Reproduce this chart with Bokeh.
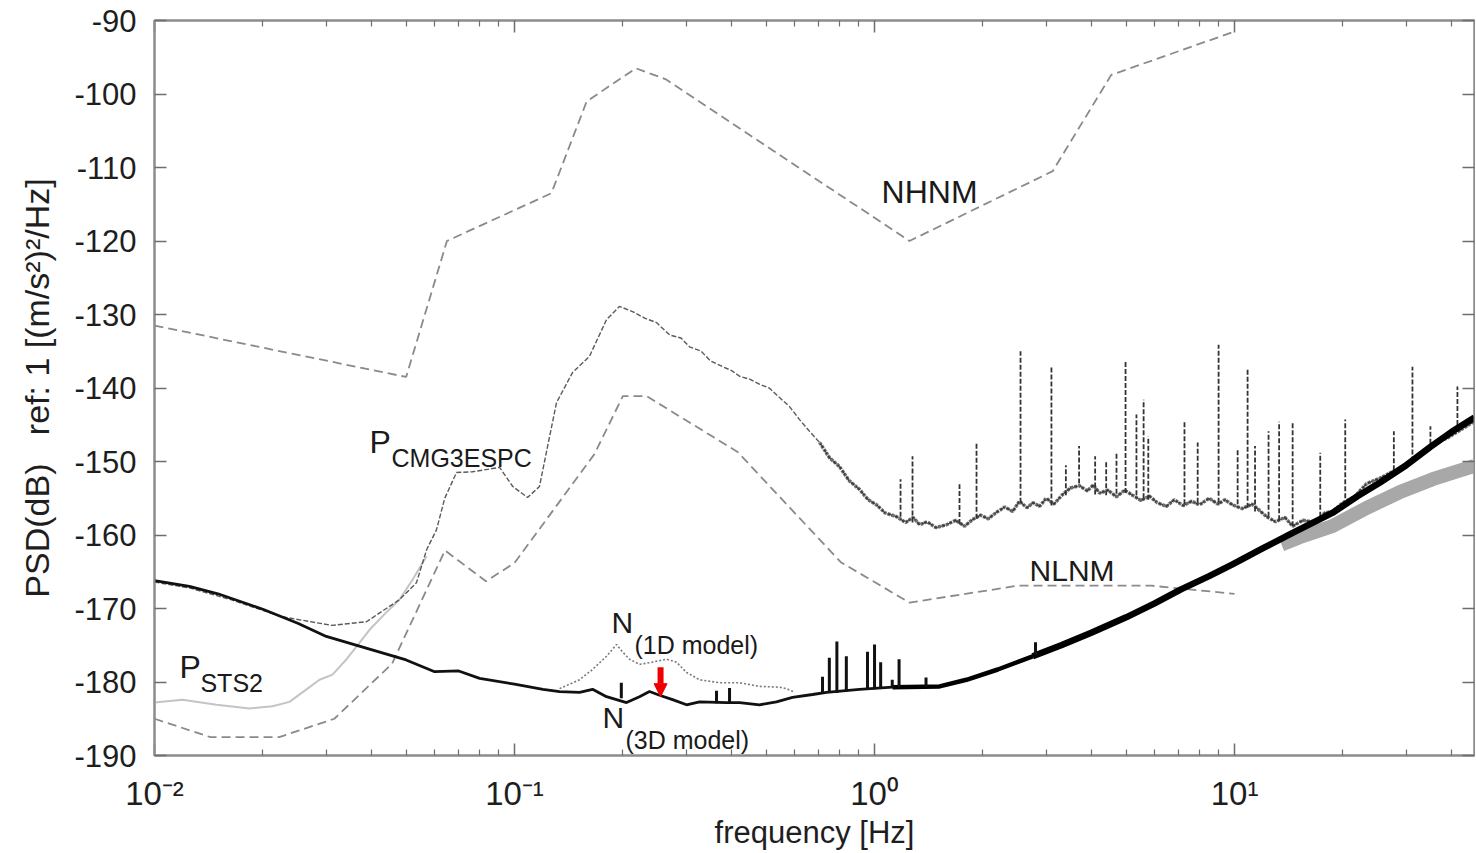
import numpy as np
from bokeh.plotting import figure
from bokeh.models import (Range1d, LogAxis, LinearAxis, FixedTicker, CustomJSTickFormatter,
                          Label, Arrow, NormalHead)
from bokeh.embed import file_html
from bokeh.resources import INLINE

# ---------------- data (frequency in Hz, PSD in dB) ----------------
nhnm_f = [0.01, 0.05, 0.0649, 0.1266, 0.1587, 0.2174, 0.2632, 1.25, 3.125, 4.545, 10.0]
nhnm_db = [-131.5, -138.5, -120.0, -113.5, -101.0, -96.5, -98.0, -120.0, -110.5, -97.4, -91.5]

nlnm_f = [0.01, 0.01429, 0.0222, 0.0316, 0.0457, 0.0641, 0.0833, 0.1, 0.1667, 0.2, 0.2326,
          0.4167, 0.806, 1.25, 2.5, 5.88, 10.0]
nlnm_db = [-185.0, -187.5, -187.5, -185.0, -177.5, -162.1, -166.3, -163.8, -149.0, -141.1, -141.1,
           -148.7, -163.7, -169.2, -166.9, -166.9, -168.0]

cmg_f = [0.01, 0.0125, 0.0163, 0.0225, 0.0311, 0.0388, 0.0479, 0.0534, 0.057, 0.0607, 0.064, 0.069,
         0.0764, 0.0909, 0.0989, 0.1087, 0.1173, 0.1235, 0.1308, 0.1449, 0.1615, 0.1801, 0.1957,
         0.2127, 0.23, 0.2479, 0.27, 0.29, 0.3062, 0.33, 0.35, 0.3784, 0.40, 0.4217, 0.45, 0.48,
         0.51, 0.5446, 0.58, 0.619, 0.66,
         0.7035, 0.75, 0.7995, 0.85, 0.9085, 0.96, 1.013, 1.07, 1.151, 1.22, 1.28, 1.334, 1.40,
         1.48, 1.585, 1.68, 1.78, 1.872, 1.97, 2.07, 2.183, 2.30, 2.42, 2.527, 2.65, 2.76, 2.873,
         3.0, 3.15, 3.328, 3.5, 3.71, 3.9, 4.05, 4.217, 4.45, 4.7, 4.95, 5.21, 5.5, 5.8, 6.1, 6.47,
         6.8, 7.2, 7.6, 7.99, 8.5, 9.0, 9.4, 9.87, 10.5, 11.2, 12.27, 13.0, 13.8, 14.5, 15.5, 16.9,
         17.8, 18.7, 20.0, 21.5, 23.3, 25.5, 28.7, 31.5, 35.5, 39.0, 44.1, 46.4]
cmg_db = [-166.4, -167.2, -168.8, -171.1, -172.3, -171.8, -168.8, -166.5, -162.0, -159.3, -155.0, -151.5,
          -151.4, -150.8, -153.4, -154.9, -153.4, -148.0, -142.0, -137.9, -135.7, -130.7, -128.9,
          -129.6, -130.5, -131.1, -132.8, -133.2, -134.4, -135.0, -136.3, -137.1, -137.6, -138.4, -138.8, -139.5,
          -140.0, -141.3, -142.5, -144.3, -145.9,
          -147.4, -149.5, -150.7, -152.6, -153.8, -155.2, -155.9, -157.0, -157.5, -158.3, -157.6, -158.6, -158.2,
          -159.0, -158.6, -158.0, -158.8, -157.9, -157.3, -157.8, -156.9, -156.2, -156.8, -155.4, -156.3, -155.6, -156.1,
          -155.0, -155.8, -154.5, -153.6, -153.3, -154.0, -153.2, -154.3, -153.9, -154.8, -153.9, -154.6, -155.3, -154.7, -155.6, -156.1,
          -155.2, -156.0, -155.4, -155.9, -155.0, -155.8, -155.2, -155.9, -156.4, -155.8, -157.5, -158.2, -157.6, -158.8, -158.0, -158.3,
          -157.0, -156.8, -155.6, -154.8, -153.0, -152.2, -150.9, -149.6, -147.6, -146.8, -145.2, -144.5]

# narrow peaks of the CMG3ESPC spectrum: frequency, floor, top
cmg_spike_f = [1.181, 1.275, 1.722, 1.92, 2.544, 3.10, 3.4, 3.7, 4.1, 4.4, 4.7, 4.98, 5.34, 5.59, 5.76,
               7.26, 7.9, 9.03, 10.2, 10.87, 11.4, 12.43, 13.3, 14.5, 17.3, 20.3, 27.7, 31.2, 35.0, 41.6]
cmg_spike_base = [-157.5, -158.3, -158.5, -157.8, -155.6, -156.0, -154.6, -153.0, -154.5, -154.6, -154.4,
                  -154.3, -154.6, -155.0, -155.2, -155.8, -155.6, -155.6, -155.8, -156.3, -156.8, -157.5,
                  -158.0, -158.8, -157.5, -155.0, -151.2, -150.0, -147.6, -146.0]
cmg_spike_top = [-152.4, -149.3, -153.1, -147.4, -135.0, -137.1, -150.5, -147.9, -149.3, -150.0, -148.7,
                 -136.4, -143.6, -141.6, -146.6, -144.6, -147.4, -134.1, -148.4, -137.5, -147.9, -145.9,
                 -144.6, -144.7, -148.8, -144.3, -145.9, -137.1, -145.2, -139.8]

sts2_lo_f = [0.01, 0.01196, 0.01487, 0.01836, 0.02127, 0.02371, 0.02644, 0.02873, 0.03122, 0.03415,
             0.0364, 0.03956, 0.04409, 0.0479, 0.05207, 0.057]
sts2_lo_db = [-182.8, -182.4, -183.1, -183.6, -183.3, -182.7, -181.0, -179.7, -179.0, -176.9,
              -175.2, -172.9, -170.5, -168.8, -166.1, -162.9]
sts2_hi_f = [13.5, 15.16, 18.7, 23.3, 28.7, 35.5, 46.4]
sts2_hi_db = [-161.3, -160.3, -158.8, -156.3, -154.2, -152.4, -150.6]

n3_f = [0.01, 0.0125, 0.015, 0.02, 0.025, 0.03, 0.04, 0.05, 0.06, 0.07, 0.08, 0.1, 0.12, 0.1334,
        0.1516, 0.1647, 0.1801, 0.2047, 0.2224, 0.2371, 0.2528, 0.2748, 0.3005, 0.3265, 0.3881,
        0.4217, 0.4792, 0.5342, 0.5918, 0.6727, 0.7356, 0.9085, 1.122, 1.516, 1.8, 2.2, 2.75, 3.3,
        4.0, 5.0, 6.0, 7.1, 8.5, 9.87, 12.0, 14.5, 18.7, 22.0, 25.3, 30.0, 35.0, 40.0, 46.4]
n3_db = [-166.2, -167.0, -168.0, -170.1, -172.0, -173.8, -175.6, -177.0, -178.6, -178.5, -179.5, -180.3, -181.0, -181.3,
         -181.4, -181.0, -182.0, -182.8, -182.0, -181.3, -181.8, -182.4, -183.1, -182.7, -182.8,
         -182.8, -183.1, -182.7, -182.1, -181.7, -181.4, -181.0, -180.7, -180.6, -179.7, -178.3, -176.5, -175.0,
         -173.3, -171.2, -169.3, -167.4, -165.6, -164.0, -161.8, -159.7, -157.0, -154.7, -152.9, -150.5, -148.0,
         -146.0, -144.0]
n3_spike_f = [0.198, 0.364, 0.3956, 0.717, 0.749, 0.786, 0.835, 0.956, 1.0, 1.04, 1.12, 1.17, 1.39, 2.8]
n3_spike_base = [-182.2, -182.9, -182.8, -181.6, -181.5, -181.5, -181.3, -181.0, -181.0, -180.9, -180.7,
                 -180.7, -180.6, -176.3]
n3_spike_top = [-180.1, -181.2, -180.8, -179.3, -176.7, -174.5, -176.5, -175.9, -174.9, -177.3, -179.7,
                -176.9, -179.4, -174.6]

n1_f = [0.1334, 0.1516, 0.1647, 0.1801, 0.192, 0.1995, 0.2086, 0.2224, 0.2416, 0.2644, 0.2818,
        0.3005, 0.3265, 0.371, 0.4217, 0.4792, 0.5446, 0.5694, 0.60]
n1_db = [-180.9, -179.7, -178.3, -176.5, -174.9, -175.9, -176.9, -177.6, -177.3, -176.9, -177.3,
         -178.7, -179.7, -180.1, -180.1, -180.6, -180.7, -180.9, -181.4]

x_major = [0.01, 0.1, 1.0, 10.0]
y_major = [-190, -180, -170, -160, -150, -140, -130, -120, -110, -100, -90]

# annotation anchors (data units, vertical centre of the text)
arrow_f, arrow_top, arrow_tip = 0.2545, -178.0, -182.0

FONT = "Liberation Sans"

p = figure(width=1475, height=852, x_axis_type="log",
           x_range=Range1d(0.01, 46.4), y_range=Range1d(-190, -90),
           output_backend="svg", toolbar_location=None,
           min_border_left=154, min_border_right=1, min_border_top=20, min_border_bottom=96)
p.grid.visible = False
p.outline_line_color = "#8c8c8c"
p.outline_line_width = 2
p.background_fill_color = "white"
p.border_fill_color = "white"

minor = [m * 10.0 ** e for e in (-2, -1, 0, 1) for m in range(2, 10) if m * 10.0 ** e < 46.4]
sup_code = """
const e = Math.round(Math.log10(tick));
const sup = {"-": "\u207b", "0": "\u2070", "1": "\u00b9", "2": "\u00b2", "3": "\u00b3"};
let s = "";
for (const c of String(e)) { s += sup[c]; }
return "10" + s;
"""

def style_axis(ax, labels=True):
    ax.axis_line_color = "#8c8c8c"
    ax.axis_line_width = 2
    ax.major_tick_line_color = "#6e6e6e"
    ax.minor_tick_line_color = "#6e6e6e"
    ax.major_tick_line_width = 1.5
    ax.minor_tick_line_width = 1.2
    ax.major_tick_in = 12
    ax.major_tick_out = 0
    ax.minor_tick_in = 6
    ax.minor_tick_out = 0
    if not labels:
        ax.major_label_text_font_size = "0px"
        ax.major_label_standoff = 0
        ax.formatter = CustomJSTickFormatter(code="return '';")

xa = p.xaxis[0]
style_axis(xa)
xa.ticker = FixedTicker(ticks=x_major, minor_ticks=minor)
xa.formatter = CustomJSTickFormatter(code=sup_code)
xa.major_label_text_font = FONT
xa.major_label_text_font_size = "33px"
xa.major_label_text_color = "#1e1e1e"
xa.major_label_standoff = 19
xa.axis_label = "frequency [Hz]"
xa.axis_label_text_font = FONT
xa.axis_label_text_font_size = "31px"
xa.axis_label_text_font_style = "normal"
xa.axis_label_text_color = "#1e1e1e"
xa.axis_label_standoff = 0

ya = p.yaxis[0]
style_axis(ya)
ya.ticker = FixedTicker(ticks=y_major, minor_ticks=[])
ya.formatter = CustomJSTickFormatter(code="return tick.toFixed(0);")
ya.major_label_text_font = FONT
ya.major_label_text_font_size = "31px"
ya.major_label_text_color = "#1e1e1e"
ya.major_label_standoff = 18
ya.axis_label = "PSD(dB)\u00a0\u00a0\u00a0ref: 1 [(m/s\u00b2)\u00b2/Hz]"
ya.axis_label_text_font = FONT
ya.axis_label_text_font_size = "34px"
ya.axis_label_text_font_style = "normal"
ya.axis_label_text_color = "#1e1e1e"
ya.axis_label_standoff = 15

top = LogAxis(ticker=FixedTicker(ticks=x_major, minor_ticks=minor))
style_axis(top, labels=False)
p.add_layout(top, "above")
right = LinearAxis(ticker=FixedTicker(ticks=y_major, minor_ticks=[]))
style_axis(right, labels=False)
p.add_layout(right, "right")

# ---------------- curves ----------------
p.line(nhnm_f, nhnm_db, line_color="#8a8a8a", line_width=1.8, line_dash="9 5")
p.line(nlnm_f, nlnm_db, line_color="#8a8a8a", line_width=1.8, line_dash="9 5")

p.line(sts2_lo_f, sts2_lo_db, line_color="#c4c4c4", line_width=2)
p.line(sts2_hi_f, sts2_hi_db, line_color="#a8a8a8", line_width=14)

p.line(cmg_f, cmg_db, line_color="#5a5a5a", line_width=1.4, line_dash="5 2")
i_noise = cmg_f.index(0.7035)
p.line(cmg_f[i_noise:], cmg_db[i_noise:], line_color="#222222", line_width=3.5, line_alpha=0.65,
       line_dash="3 1")
p.segment(x0=cmg_spike_f, y0=cmg_spike_base, x1=cmg_spike_f, y1=cmg_spike_top,
          line_color="#333333", line_width=1.8, line_dash="5 2")

p.line(n1_f, n1_db, line_color="#7a7a7a", line_width=1.6, line_dash="2 2")

p.line(n3_f, n3_db, line_color="#111111", line_width=2.8)
i_thick = n3_f.index(2.75)
p.line(n3_f[i_thick:], n3_db[i_thick:], line_color="#000000", line_width=6.5)
i_mid = n3_f.index(1.122)
p.line(n3_f[i_mid:i_thick + 1], n3_db[i_mid:i_thick + 1], line_color="#000000", line_width=4.5)
p.segment(x0=n3_spike_f, y0=n3_spike_base, x1=n3_spike_f, y1=n3_spike_top,
          line_color="#111111", line_width=3)

# ---------------- labels ----------------
def add_label(x, y, text, size, dx=0, dy=0):
    p.add_layout(Label(x=x, y=y, x_offset=dx, y_offset=dy, text=text, text_font=FONT,
                       text_font_size=size, text_color="#1a1a1a", text_baseline="middle",
                       text_align="left"))

add_label(1.046, -113.3, "NHNM", "32px")
add_label(2.696, -164.8, "NLNM", "30px")
add_label(0.03956, -147.35, "P", "32px")
add_label(0.03956, -147.35, "CMG3ESPC", "25px", dx=22, dy=-16)
add_label(0.01173, -177.96, "P", "32px")
add_label(0.01173, -177.96, "STS2", "25px", dx=21, dy=-16)
add_label(0.1859, -171.84, "N", "30px")
add_label(0.1859, -171.84, "(1D model)", "25px", dx=23, dy=-23)
add_label(0.1755, -184.85, "N", "30px")
add_label(0.1755, -184.85, "(3D model)", "25px", dx=23, dy=-22)

p.add_layout(Arrow(end=NormalHead(size=13, fill_color="#ee0000", line_color="#ee0000"),
                   x_start=arrow_f, y_start=arrow_top, x_end=arrow_f, y_end=arrow_tip,
                   line_color="#ee0000", line_width=6))

open("out.html", "w").write(file_html(p, INLINE))
